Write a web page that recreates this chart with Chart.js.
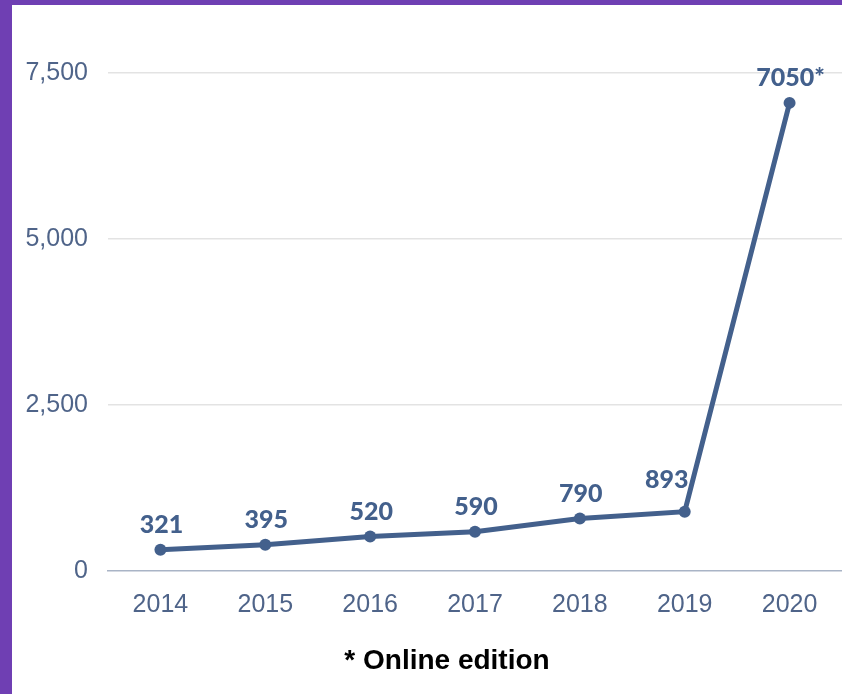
<!DOCTYPE html>
<html>
<head>
<meta charset="utf-8">
<script src="https://cdn.jsdelivr.net/npm/chart.js@4.4.1/dist/chart.umd.min.js"></script>
<style>
  html, body { margin: 0; padding: 0; }
  body { width: 842px; height: 694px; background: #6f3fb3; position: relative; overflow: hidden; }
  #panel { position: absolute; left: 12px; top: 5px; width: 830px; height: 689px; background: #fff; overflow: hidden; }
  #chart { display: block; }
  #note { position: absolute; left: 0; width: 830px; top: 639px; text-align: center; padding-left: 40px; box-sizing: border-box;
          font: bold 28px "Liberation Sans", Arial, sans-serif; color: #000; }
</style>
</head>
<body>
<div id="panel">
  <canvas id="chart" width="836" height="689"></canvas>
  <div id="note">* Online edition</div>
</div>
<script>
// values
const years   = ['2014', '2015', '2016', '2017', '2018', '2019', '2020'];
const visits  = [321, 395, 520, 590, 790, 893, 7050];
const labels  = ['321', '395', '520', '590', '790', '893', '7050*'];
const yTicks  = [0, 2500, 5000, 7500];

const lineColor = '#43608c';
const tickColor = '#4f6489';

// draws the bold value above each point
const valueLabels = {
  id: 'valueLabels',
  afterDatasetsDraw(chart) {
    const ctx = chart.ctx;
    const pts = chart.getDatasetMeta(0).data;
    ctx.save();
    ctx.font = '900 25px Lato, "Open Sans", sans-serif';
    ctx.fillStyle = lineColor;
    ctx.textAlign = 'center';
    ctx.textBaseline = 'middle';
    pts.forEach((p, i) => {
      let dx = 1, dy = -25;
      if (i === 5) { dx = -18; dy = -32; }   // 893 sits left of the steep segment
      ctx.fillText(labels[i], p.x + dx, p.y + dy);
    });
    ctx.restore();
  }
};

new Chart(document.getElementById('chart').getContext('2d'), {
  type: 'line',
  data: {
    labels: years,
    datasets: [{
      data: visits,
      borderColor: lineColor,
      backgroundColor: lineColor,
      borderWidth: 5,
      pointRadius: 6,
      pointBackgroundColor: lineColor,
      pointBorderWidth: 0,
      tension: 0,
      fill: false
    }]
  },
  options: {
    responsive: false,
    animation: false,
    layout: { padding: { top: 68, right: 0, bottom: 0, left: 0 } },
    plugins: { legend: { display: false }, tooltip: { enabled: false } },
    scales: {
      x: {
        offset: true,
        grid: { display: false, drawTicks: false },
        border: { display: true, color: '#a9b4c6', width: 1.5 },
        ticks: { color: tickColor, padding: 19, font: { family: '"Liberation Sans", Arial, sans-serif', size: 25 } },
        afterFit: s => { s.height = 123; s.paddingLeft = 0; s.paddingRight = 0; }
      },
      y: {
        min: 0,
        max: 7500,
        afterBuildTicks: s => { s.ticks = yTicks.map(v => ({ value: v })); },
        grid: {
          drawTicks: false,
          color: c => (c.tick && c.tick.value === 0) ? 'rgba(0,0,0,0)' : '#e3e3e3',
          lineWidth: 1.5
        },
        border: { display: false },
        ticks: {
          color: tickColor,
          padding: 20,
          font: { family: '"Liberation Sans", Arial, sans-serif', size: 25 },
          callback: v => v.toLocaleString('en-US')
        },
        afterFit: s => { s.width = 96; }
      }
    }
  },
  plugins: [valueLabels]
});
</script>
</body>
</html>
